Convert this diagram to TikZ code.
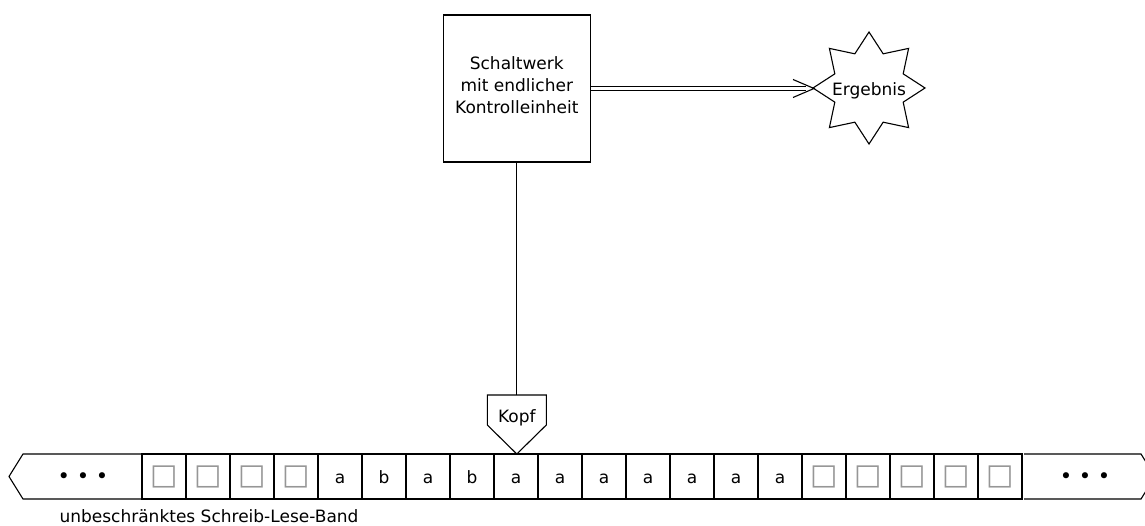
\documentclass[tikz,border=0pt]{standalone}
\usepackage{fontspec}
\setmainfont{DejaVu Sans}
\usetikzlibrary{shapes.geometric,arrows.meta}
\definecolor{sqgray}{RGB}{150,150,150}
\newcommand{\tapesq}{{\color{sqgray}\fontsize{29}{29}\selectfont □}}
\begin{document}
\begin{tikzpicture}[x=1pt,y=-1pt,line width=1.1pt,
  every node/.style={font=\fontsize{17}{22}\selectfont},
  cell/.style={draw,minimum width=44pt,minimum height=45pt,inner sep=0pt},
  lettercell/.style={cell,font=\fontsize{17}{17}\selectfont,text height=13.6pt,text depth=0pt},
  dots/.style={font=\fontsize{21}{21}\selectfont},
  ctrlbox/.style={draw,minimum width=147pt,minimum height=147pt,align=center,inner sep=0pt}]
\useasboundingbox (0,0) rectangle (1145,526);
\begin{scope}
\clip (0,0) rectangle (1145,526);
% tape ends
\draw (142,454) -- (23,454) -- (9,476.5) -- (23,499) -- (142,499);
\draw (1024,454) -- (1141,454) -- (1155,476.5) -- (1141,499) -- (1024,499);
\end{scope}
\node[dots] (ldots) at (83,478) {• • •};
\node[dots] (rdots) at (1085,478) {• • •};
% cells
\foreach \i in {1,2,3,4,16,17,18,19,20}
  \node[cell] (c\i) at (120+44*\i,476.5) {\tapesq};
\foreach \i/\t in {5/a,6/b,7/a,8/b,9/a,10/a,11/a,12/a,13/a,14/a,15/a}
  \node[lettercell] (c\i) at (120+44*\i,476.5) {\t};
% control unit
\node[ctrlbox] (ctrl) at (516.8,88.5) {Schaltwerk\\mit endlicher\\Kontrolleinheit\rule[-7.6pt]{0pt}{0pt}};
% result star
\node (res) at (869,91) {Ergebnis};
\draw[shift={(869,88)},line join=miter] (90:56)
  \foreach \k in {1,...,15} { -- ({90+22.5*\k}:{isodd(\k)*37+(1-isodd(\k))*56}) } -- cycle;
\coordinate (resw) at (814,88.5);
% output arrow
\draw[double,double distance=3.4pt] (ctrl.east) -- (806,88.5);
\draw (793,79.5) -- (resw) -- (793,97.5);
% head
\node (kopf) at (516.8,417.5) {Kopf};
\coordinate (kt) at (516.8,395);
\draw (487.3,395) -- (546.3,395) -- (546.3,425) -- (516.8,454) -- (487.3,425) -- cycle;
\draw (ctrl.south) -- (kt);
% label
\node (band) at (209,516) {unbeschränktes Schreib-Lese-Band};
\end{tikzpicture}
\end{document}
